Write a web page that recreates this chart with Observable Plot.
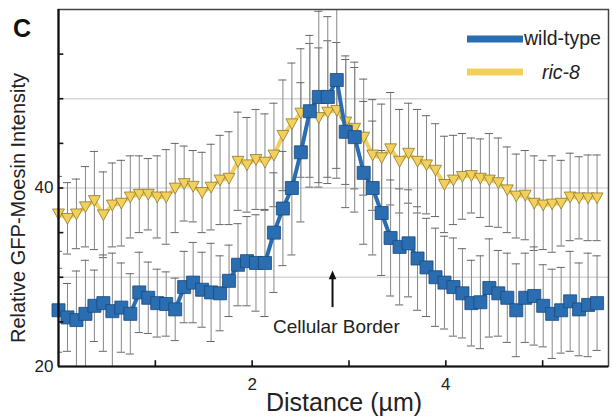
<!DOCTYPE html>
<html><head><meta charset="utf-8">
<script src="https://cdn.jsdelivr.net/npm/d3@7"></script>
<script src="https://cdn.jsdelivr.net/npm/@observablehq/plot@0.6"></script>
<style>
body{margin:0;background:#fff;}
#chart{position:relative;width:613px;height:418px;}
</style></head><body><div id="chart"></div>
<script>
// Relative GFP-Moesin intensity
const wildType = [
  26.3, 25.5, 25.2, 25.9, 26.8, 27.1, 26.2, 26.6, 25.9, 28.3,
  27.7, 27.1, 27.0, 26.4, 28.9, 29.4, 28.6, 28.3, 28.2, 29.6,
  31.4, 31.8, 31.6, 31.6, 35.0, 37.7, 40.0, 44.0, 48.6, 50.2,
  50.2, 52.1, 46.3, 45.7, 41.7, 40.0, 37.2, 34.4, 33.4, 33.8,
  32.1, 31.1, 30.0, 29.4, 28.9, 28.2, 27.1, 27.2, 28.8, 28.2,
  27.7, 26.3, 27.7, 27.9, 26.8, 25.9, 26.3, 27.3, 26.4, 26.9,
  27.1
];
const wildTypeErr = [
  4.7, 3.8, 5.5, 6.0, 4.0, 5.4, 6.5, 5.0, 4.5, 4.5,
  4.0, 3.8, 3.6, 3.5, 4.0, 4.5, 4.2, 5.5, 4.2, 4.0,
  4.6, 5.0, 5.4, 6.0, 6.7, 6.4, 7.5, 7.8, 8.5, 9.6,
  9.0, 9.9, 8.5, 8.4, 8.0, 7.5, 7.0, 6.5, 6.5, 6.0,
  5.8, 5.5, 5.5, 5.2, 5.5, 5.0, 4.8, 5.2, 5.5, 4.8,
  5.0, 5.2, 5.0, 5.5, 4.6, 5.0, 4.8, 5.6, 5.2, 5.8,
  5.3
];
const ric8 = [
  37.1, 36.6, 37.1, 37.9, 38.6, 37.0, 38.1, 38.3, 39.0, 39.3,
  39.3, 39.0, 39.0, 40.0, 40.5, 40.2, 39.5, 40.1, 40.9, 41.1,
  43.0, 42.6, 43.2, 42.9, 43.7, 45.9, 47.2, 48.4, 48.7, 47.9,
  48.5, 48.7, 47.4, 46.7, 45.7, 43.7, 43.4, 44.4, 43.0, 43.9,
  43.0, 42.6, 42.0, 40.4, 40.9, 41.3, 41.4, 41.1, 40.9, 40.6,
  39.8, 39.1, 39.2, 38.3, 38.1, 38.2, 38.3, 39.0, 38.9, 38.9,
  38.9
];
const ric8Err = [
  4.2, 4.0, 3.9, 4.5, 5.5, 4.8, 4.7, 4.8, 4.6, 4.3,
  4.0, 4.6, 5.3, 5.0, 4.2, 4.0, 4.5, 4.8, 5.0, 5.2,
  5.5, 5.3, 5.6, 5.4, 5.8, 6.2, 6.8, 7.2, 7.5, 7.8,
  8.0, 7.6, 7.0, 6.8, 6.5, 6.2, 6.0, 6.3, 5.8, 5.6,
  5.8, 5.5, 5.2, 5.4, 5.0, 4.8, 4.2, 4.4, 5.2, 5.0,
  4.8, 4.7, 5.0, 5.3, 5.0, 5.4, 4.8, 4.9, 4.6, 4.8,
  4.8
];
const sampleStep = 0.0927; // µm between profile samples
const seriesNames = ["wild-type", "ric-8"];
const yTickLabels = [20, 40];
const yTickMarks = [25, 30, 35, 40, 45, 50, 55];
const yGrid = [30, 40, 50];
const xTickLabels = [2, 4];
const xTickMarks = [1, 2, 3, 4, 5];
const borderX = 2.83;
const borderLabel = "Cellular Border";

const rows = (vals, errs, name) => vals.map((v, i) => ({x: i * sampleStep, v, e: errs[i], name}));
const wt = rows(wildType, wildTypeErr, seriesNames[0]);
const rc = rows(ric8, ric8Err, seriesNames[1]);

const squareSym = {draw(ctx, size) { const r = Math.sqrt(size / Math.PI) * 0.88; ctx.moveTo(-r, -r); ctx.lineTo(r, -r); ctx.lineTo(r, r); ctx.lineTo(-r, r); ctx.closePath(); }};
const triDownSym = {draw(ctx, size) { const r = Math.sqrt(size / Math.PI); ctx.moveTo(-r * 0.85, -r * 0.7); ctx.lineTo(r * 0.85, -r * 0.7); ctx.lineTo(0, r * 0.85); ctx.closePath(); }};
const triUpSym = {draw(ctx, size) { const r = Math.sqrt(size / Math.PI); ctx.moveTo(-r * 0.7, r * 0.6); ctx.lineTo(r * 0.7, r * 0.6); ctx.lineTo(0, -r); ctx.closePath(); }};

const BLUE = "#2a6db0", BLUE_D = "#1b4a7c", YEL = "#f3cf5c", YEL_D = "#8d7a2e", ERR = "#868686";
const capW = 0.042;
const errMarks = (d) => [
  Plot.ruleX(d, {x: "x", y1: r => r.v - r.e, y2: r => r.v + r.e, stroke: ERR, strokeWidth: 1, clip: true}),
  Plot.ruleY(d, {y: r => r.v + r.e, x1: r => r.x - capW, x2: r => r.x + capW, stroke: "#666", strokeWidth: 1, clip: true}),
  Plot.ruleY(d, {y: r => r.v - r.e, x1: r => r.x - capW, x2: r => r.x + capW, stroke: "#666", strokeWidth: 1, clip: true})
];

const svg = Plot.plot({
  width: 613, height: 418,
  marginLeft: 58, marginRight: 5, marginTop: 9, marginBottom: 52,
  x: {domain: [0, 5.68], axis: null},
  y: {domain: [20, 60], axis: null},
  style: {fontFamily: "'Liberation Sans', Arial, sans-serif", color: "#222", background: "#fff"},
  marks: [
    Plot.ruleY(yGrid, {stroke: "#d6d6d6", strokeWidth: 1.3}),
    ...errMarks(rc),
    ...errMarks(wt),
    Plot.line(rc, {x: "x", y: "v", stroke: YEL, strokeWidth: 4}),
    Plot.dot(rc, {x: "x", y: "v", symbol: triDownSym, r: 7, fill: YEL, stroke: YEL_D, strokeWidth: 0.8}),
    Plot.line(wt, {x: "x", y: "v", stroke: BLUE, strokeWidth: 4}),
    Plot.dot(wt, {x: "x", y: "v", symbol: squareSym, r: 7.4, fill: BLUE, stroke: BLUE_D, strokeWidth: 0.8}),
    Plot.frame({stroke: "#444", strokeWidth: 1.5}),
    Plot.ruleX([0], {stroke: "#111", strokeWidth: 2.2}),
    Plot.ruleY([20], {stroke: "#111", strokeWidth: 2.2}),
    Plot.ruleY(yTickMarks, {x1: 0, x2: 0.055, stroke: "#111", strokeWidth: 1.6}),
    Plot.ruleX(xTickMarks, {y1: 20, y2: 20.65, stroke: "#111", strokeWidth: 1.6}),
    Plot.axisX(xTickLabels, {tickSize: 0, tickPadding: 11, fontSize: 17, label: null}),
    Plot.axisY(yTickLabels, {tickSize: 0, tickPadding: 5, fontSize: 17, label: null}),
    Plot.ruleX([borderX], {y1: 26.6, y2: 30.0, stroke: "#111", strokeWidth: 2}),
    Plot.dot([borderX], {x: d => d, y: [30.15], symbol: triUpSym, r: 5.5, fill: "#111", stroke: "none"}),
    Plot.text([borderLabel], {x: [borderX + 0.04], y: [23.75], text: d => d, fontSize: 19, fill: "#222", lineAnchor: "bottom"})
  ]
});
document.getElementById("chart").appendChild(svg);

const s = d3.select(svg);
const ff = "'Liberation Sans', Arial, sans-serif";
s.append("text").attr("x", 13).attr("y", 37).attr("text-anchor", "start").attr("font-family", ff).attr("font-size", 25).attr("font-weight", "bold").attr("fill", "#111").text("C");
s.append("text").attr("transform", "translate(25,208) rotate(-90)").attr("text-anchor", "middle").attr("font-family", ff).attr("font-size", 20).attr("fill", "#222").text("Relative GFP-Moesin Intensity");
s.append("text").attr("x", 344).attr("y", 411).attr("text-anchor", "middle").attr("font-family", ff).attr("font-size", 25).attr("fill", "#222").text("Distance (µm)");
// legend
const lg = s.append("g").attr("text-anchor", "start");
lg.append("line").attr("x1", 467).attr("x2", 523).attr("y1", 39).attr("y2", 39).attr("stroke", BLUE).attr("stroke-width", 7);
lg.append("text").attr("x", 524).attr("y", 45).attr("text-anchor", "start").attr("font-family", ff).attr("font-size", 19.5).attr("fill", "#222").text(seriesNames[0]);
lg.append("line").attr("x1", 467).attr("x2", 523).attr("y1", 72).attr("y2", 72).attr("stroke", YEL).attr("stroke-width", 7);
lg.append("text").attr("x", 542).attr("y", 79).attr("text-anchor", "start").attr("font-family", ff).attr("font-size", 19.5).attr("font-style", "italic").attr("fill", "#222").text(seriesNames[1]);
</script></body></html>
